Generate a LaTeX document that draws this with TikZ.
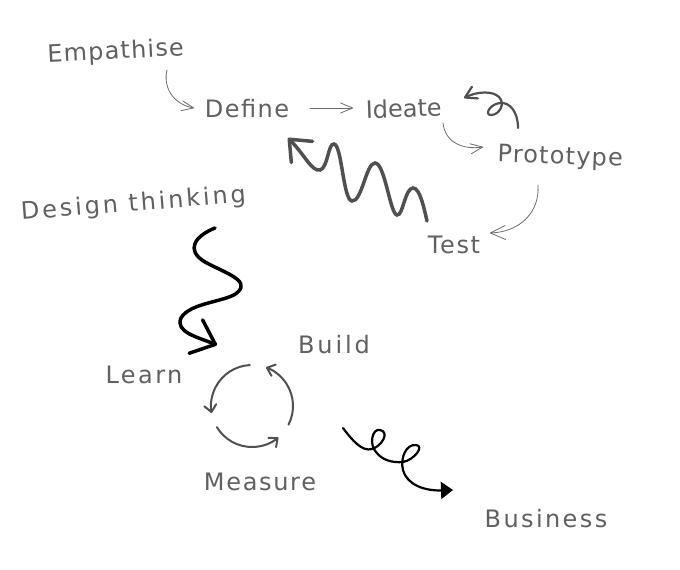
\documentclass[tikz,border=0pt]{standalone}
\usepackage{fontspec}
\setmainfont{DejaVu Sans}
\usetikzlibrary{arrows.meta,calc}
\definecolor{txtgray}{HTML}{606060}
\definecolor{linegray}{HTML}{6A6A6A}
\definecolor{darkgray}{HTML}{505050}
\tikzset{
  lbl/.style={anchor=base, inner sep=0pt, text=txtgray,
    font=\fontsize{24}{28}\selectfont\addfontfeatures{LetterSpace=#1}},
  lbl/.default=6,
  thinarr/.style={draw=linegray, line width=0.8pt, line cap=round,
    -{Straight Barb[length=12pt,width=10pt,round]}},
  bigthinarr/.style={thinarr, -{Straight Barb[length=15pt,width=14pt,round]}},
  curlarr/.style={draw=darkgray, line width=2.2pt, line cap=round,
    -{Straight Barb[length=11pt,width=13pt,round]}},
  wavearr/.style={draw=darkgray, line width=3.5pt, line cap=round,
    -{Straight Barb[length=18pt,width=30pt,round]}},
  sarr/.style={draw=black, line width=3.5pt, line cap=round,
    -{Straight Barb[length=21pt,width=36pt,round]}},
  looparr/.style={draw=black, line width=2.2pt, line cap=round,
    -{Triangle[length=12pt,width=17pt]}},
  cycarr/.style={draw=darkgray, line width=2pt, line cap=round,
    -{Straight Barb[length=7pt,width=12pt,round]}},
}
\begin{document}
\begin{tikzpicture}[x=1pt,y=-1pt]
\useasboundingbox (0,0) rectangle (680,570);
% labels
\node[lbl=5, rotate=3] (emp) at (116,59) {Empathise};
\node[lbl=6] (def) at (247,117) {Define};
\node[lbl=0, rotate=2] (ide) at (404,117) {Ideate};
\node[lbl=5, rotate=-2] (pro) at (560,164) {Prototype};
\node[lbl=7] (tst) at (454,253) {Test};
\node[lbl=12, rotate=4.5] (dt) at (134,211) {Design thinking};
\node[lbl=12] (bld) at (334,353) {Build};
\node[lbl=10] (lrn) at (144,383) {Learn};
\node[lbl=7] (msr) at (260,490) {Measure};
\node[lbl=10] (bus) at (546,527) {Business};
\coordinate (cyc) at (252,406);
% design thinking cycle
\draw[thinarr] ($(emp.base)+(51,11)$) .. controls (163,86) and (172,104) .. ($(def.base)+(-53,-9)$);
\draw[thinarr] ($(def.base)+(63,-9)$) -- ($(ide.base)+(-51,-9)$);
\draw[thinarr] ($(ide.base)+(39,6)$) .. controls (445,142) and (462,150) .. ($(pro.base)+(-77,-17)$);
\draw[bigthinarr] ($(pro.base)+(-22,21)$) .. controls (540,212) and (520,232) .. ($(tst.base)+(36,-20)$);
\draw[curlarr] ($(pro.base)+(-42,-36)$) .. controls (518,112) and (510,102) .. (500,103)
   .. controls (490,104) and (484,115) .. (491,115)
   .. controls (499,115) and (506,104) .. (499,97)
   .. controls (493,91) and (478,91) .. ($(ide.base)+(60,-19)$);
\draw[wavearr] ($(tst.base)+(-27,-32)$) .. controls (424,208) and (420,188) .. (413,188)
   .. controls (405,188) and (403,216) .. (397,215)
   .. controls (390,214) and (385,163) .. (375,163)
   .. controls (366,163) and (362,202) .. (352,201)
   .. controls (343,200) and (342,145) .. (334,144)
   .. controls (328,143) and (328,168) .. (320,170)
   .. controls (312,172) and (304,154) .. ($(def.base)+(41,21)$);
% design thinking -> lean cycle
\draw[sarr] ($(dt.base)+(81,17)$) .. controls (195,236) and (185,250) .. (205,262)
   .. controls (225,273) and (250,280) .. (238,292)
   .. controls (228,302) and (190,302) .. (181,318)
   .. controls (175,332) and (197,337) .. ($(lrn.base)+(73,-38)$);
% build-measure-learn
\draw[cycarr] ($(cyc)+(-93:41)$) arc[start angle=-93, end angle=-190, radius=41];
\draw[cycarr] ($(cyc)+(-211:41)$) arc[start angle=-211, end angle=-310, radius=41];
\draw[cycarr] ($(cyc)+(27:41)$) arc[start angle=27, end angle=-70, radius=41];
% to business
\draw[looparr] ($(bld.base)+(9,75)$) .. controls (352,440) and (362,452) .. (372,449)
   .. controls (382,446) and (390,432) .. (380,430)
   .. controls (372,428) and (369,445) .. (376,452)
   .. controls (382,460) and (392,463) .. (403,462)
   .. controls (414,460) and (425,446) .. (416,445)
   .. controls (406,444) and (400,458) .. (403,470)
   .. controls (407,485) and (425,491) .. ($(bus.base)+(-93,-37)$);
\end{tikzpicture}
\end{document}
